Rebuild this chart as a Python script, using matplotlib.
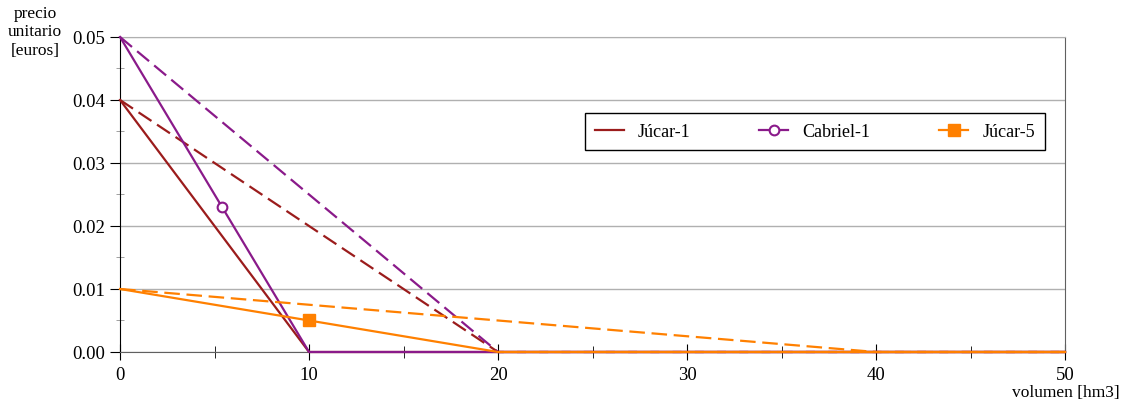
import matplotlib.pyplot as plt
from matplotlib.ticker import MultipleLocator

plt.rcParams['font.family'] = ['Liberation Serif', 'DejaVu Serif']

# curvas precio-volumen (volumen en hm3, precio en euros)
jucar1_x = [0, 10, 50]
jucar1_y = [0.04, 0.0, 0.0]
jucar1_dash_x = [0, 20, 50]
jucar1_dash_y = [0.04, 0.0, 0.0]

cabriel1_x = [0, 10, 50]
cabriel1_y = [0.05, 0.0, 0.0]
cabriel1_dash_x = [0, 20, 50]
cabriel1_dash_y = [0.05, 0.0, 0.0]
cabriel1_mark_x = [5.4]
cabriel1_mark_y = [0.023]

jucar5_x = [0, 20, 50]
jucar5_y = [0.01, 0.0, 0.0]
jucar5_dash_x = [0, 40, 50]
jucar5_dash_y = [0.01, 0.0, 0.0]
jucar5_mark_x = [10]
jucar5_mark_y = [0.005]

c_jucar1 = '#9b1c1c'
c_cabriel1 = '#8a1a8a'
c_jucar5 = '#ff8000'

fig = plt.figure(figsize=(11.25, 4.02), dpi=100)
ax = fig.add_axes([0.1067, 0.1219, 0.84, 0.7836])

dash = (0, (7, 3))
kw = dict(lw=1.6, clip_on=False, zorder=3)
ax.plot(jucar1_x, jucar1_y, color=c_jucar1, **kw)
ax.plot(jucar1_dash_x, jucar1_dash_y, color=c_jucar1, ls=dash, **kw)

ax.plot(cabriel1_x, cabriel1_y, color=c_cabriel1, **kw)
ax.plot(cabriel1_dash_x, cabriel1_dash_y, color=c_cabriel1, ls=dash, **kw)
ax.plot(cabriel1_mark_x, cabriel1_mark_y, ls='none', marker='o', ms=7,
        mfc='white', mec=c_cabriel1, mew=1.5, zorder=4)

ax.plot(jucar5_dash_x, jucar5_dash_y, color=c_jucar5, ls=dash, **kw)
ax.plot(jucar5_x, jucar5_y, color=c_jucar5, **kw)
ax.plot(jucar5_mark_x, jucar5_mark_y, ls='none', marker='s', ms=9,
        color=c_jucar5, zorder=4)

# legend handles
h1, = ax.plot([], [], color=c_jucar1, lw=1.6)
h2, = ax.plot([], [], color=c_cabriel1, lw=1.6, marker='o', ms=7, mfc='white', mew=1.5)
h3, = ax.plot([], [], color=c_jucar5, lw=1.6, marker='s', ms=9)
leg = ax.legend([h1, h2, h3], ['Júcar-1', 'Cabriel-1', 'Júcar-5'], ncol=3,
                loc='center', bbox_to_anchor=(815 / 1125, 1 - 132.5 / 402),
                bbox_transform=fig.transFigure, fancybox=False, framealpha=1,
                edgecolor='black', fontsize=13, handlelength=1.6,
                columnspacing=3.8, borderpad=0.55, handletextpad=0.8)
leg.get_frame().set_linewidth(1.0)

ax.set_xlim(0, 50)
ax.set_ylim(0, 0.05)
ax.xaxis.set_major_locator(MultipleLocator(10))
ax.xaxis.set_minor_locator(MultipleLocator(5))
ax.yaxis.set_major_locator(MultipleLocator(0.01))
ax.yaxis.set_minor_locator(MultipleLocator(0.005))
ax.yaxis.set_major_formatter(plt.FuncFormatter(lambda v, p: f'{v:.2f}'))

ax.grid(axis='y', which='major', color='#b0b0b0', lw=1.0)
ax.set_axisbelow(True)
ax.spines['top'].set_color('#b0b0b0')
ax.spines['right'].set_color('#606060')
ax.spines['bottom'].set_color('#606060')
ax.spines['left'].set_color('black')

ax.tick_params(axis='y', which='major', direction='out', length=7, labelsize=13.5)
ax.tick_params(axis='y', which='minor', direction='inout', length=6, color='#909090')
ax.tick_params(axis='x', which='major', direction='inout', length=12, labelsize=13.5, pad=4)
ax.tick_params(axis='x', which='minor', direction='inout', length=8)

fig.text(35 / 1125, 1 - 6 / 402, 'precio\nunitario\n[euros]', ha='center', va='top',
         fontsize=12.5, linespacing=1.2)
fig.text(1120 / 1125, 1 - 393 / 402, 'volumen [hm3]', ha='right', va='center',
         fontsize=12.5)

fig.savefig('out.png', dpi=100)
